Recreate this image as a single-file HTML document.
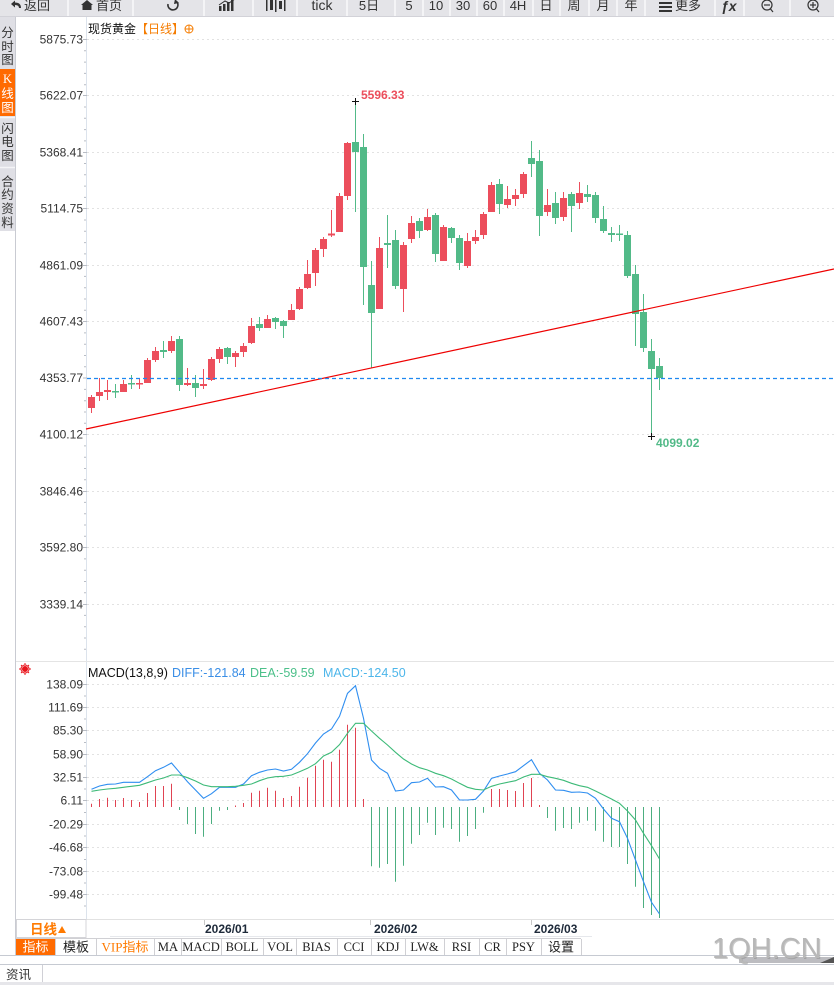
<!DOCTYPE html>
<html><head><meta charset="utf-8"><style>
html,body{margin:0;padding:0;background:#fff;}
body{width:834px;height:985px;overflow:hidden;}
svg{display:block;}
text{font-family:"Liberation Sans","Noto Sans CJK SC",sans-serif;}
.ser{font-family:"Liberation Serif","Noto Sans CJK SC",serif;}
</style></head><body>
<svg width="834" height="985" viewBox="0 0 834 985" xmlns="http://www.w3.org/2000/svg">
<!-- toolbar -->
<rect x="0" y="0" width="834" height="16.5" fill="#e4e4e8"/>
<line x1="0" y1="16.5" x2="834" y2="16.5" stroke="#d2d2d8"/>
<g stroke="#f4f4f6" stroke-width="2">
<line x1="68" y1="0" x2="68" y2="16"/><line x1="133" y1="0" x2="133" y2="16"/><line x1="204" y1="0" x2="204" y2="16"/><line x1="253" y1="0" x2="253" y2="16"/><line x1="297" y1="0" x2="297" y2="16"/><line x1="347" y1="0" x2="347" y2="16"/><line x1="395" y1="0" x2="395" y2="16"/><line x1="423" y1="0" x2="423" y2="16"/><line x1="450" y1="0" x2="450" y2="16"/><line x1="477" y1="0" x2="477" y2="16"/><line x1="504" y1="0" x2="504" y2="16"/><line x1="533" y1="0" x2="533" y2="16"/><line x1="560" y1="0" x2="560" y2="16"/><line x1="589" y1="0" x2="589" y2="16"/><line x1="617" y1="0" x2="617" y2="16"/><line x1="645" y1="0" x2="645" y2="16"/><line x1="715" y1="0" x2="715" y2="16"/><line x1="744" y1="0" x2="744" y2="16"/><line x1="790" y1="0" x2="790" y2="16"/>
</g>
<g fill="#333" font-size="13">
<path d="M11 4 L15 0.5 L15 2.5 Q21 2.5 21 8 L19 8 Q19 5 15 5 L15 7.5 Z" fill="#333"/>
<text x="24" y="10">返回</text>
<path d="M81 5 L87 0 L93 5 L91.5 5 L91.5 10 L82.5 10 L82.5 5 Z" fill="#333"/>
<text x="96" y="10">首页</text>
<path d="M177 2 A5 5 0 1 1 168 4" fill="none" stroke="#333" stroke-width="1.6"/>
<path d="M175 -1 L179 3 L174 4 Z" fill="#333"/>
<rect x="219" y="6" width="2.5" height="5"/><rect x="223" y="4" width="2.5" height="7"/><rect x="227" y="2" width="2.5" height="9"/><rect x="231" y="0" width="2.5" height="11"/>
<path d="M219 5 L225 1 L229 3 L235 -1" fill="none" stroke="#333" stroke-width="1"/>
<rect x="266" y="0" width="1.5" height="11"/><rect x="270" y="0" width="3" height="10"/><rect x="275" y="0" width="1.5" height="12"/><rect x="279" y="1" width="3" height="8"/><rect x="284" y="0" width="1.5" height="11"/>
<text x="322" y="10" text-anchor="middle" font-size="14">tick</text>
<text x="369" y="10" text-anchor="middle">5日</text>
<text x="409" y="10" text-anchor="middle">5</text>
<text x="436" y="10" text-anchor="middle">10</text>
<text x="463" y="10" text-anchor="middle">30</text>
<text x="490" y="10" text-anchor="middle">60</text>
<text x="518" y="10" text-anchor="middle">4H</text>
<text x="546" y="10" text-anchor="middle">日</text>
<text x="574" y="10" text-anchor="middle">周</text>
<text x="603" y="10" text-anchor="middle">月</text>
<text x="631" y="10" text-anchor="middle">年</text>
<rect x="659" y="2" width="13" height="2"/><rect x="659" y="6" width="13" height="2"/><rect x="659" y="10" width="13" height="2"/>
<text x="675" y="10">更多</text>
<text x="721" y="11" font-weight="bold" font-style="italic" font-size="14">ƒx</text>
<circle cx="767" cy="5" r="5" fill="none" stroke="#333" stroke-width="1.2"/><line x1="764" y1="5" x2="770" y2="5" stroke="#333" stroke-width="1.2"/><line x1="770.5" y1="9" x2="773" y2="12" stroke="#333" stroke-width="1.2"/>
<circle cx="813" cy="5" r="5" fill="none" stroke="#333" stroke-width="1.2"/><line x1="810" y1="5" x2="816" y2="5" stroke="#333" stroke-width="1.2"/><line x1="813" y1="2" x2="813" y2="8" stroke="#333" stroke-width="1.2"/><line x1="816.5" y1="9" x2="819" y2="12" stroke="#333" stroke-width="1.2"/>
</g>

<!-- sidebar -->
<rect x="0" y="17" width="15.5" height="214" fill="#dfdfe5"/>
<rect x="0" y="69" width="15.5" height="47" fill="#ff6a00"/>
<g stroke="#f5f5f7" stroke-width="1.5"><line x1="0" y1="117.5" x2="15" y2="117.5"/><line x1="0" y1="167.5" x2="15" y2="167.5"/></g>
<line x1="15.5" y1="17" x2="15.5" y2="955" stroke="#c9cbd2"/>
<g font-size="12.5" fill="#333" text-anchor="middle">
<text x="7.5" y="37">分</text><text x="7.5" y="51">时</text><text x="7.5" y="64">图</text>
<text x="7.5" y="83" fill="#fff" class="ser">K</text><text x="7.5" y="98" fill="#fff">线</text><text x="7.5" y="112" fill="#fff">图</text>
<text x="7.5" y="133">闪</text><text x="7.5" y="146">电</text><text x="7.5" y="160">图</text>
<text x="7.5" y="186">合</text><text x="7.5" y="199">约</text><text x="7.5" y="213">资</text><text x="7.5" y="227">料</text>
</g>

<!-- title -->
<text x="88" y="33" font-size="12" fill="#111">现货黄金<tspan fill="#f57c00">【日线】</tspan></text>
<circle cx="189" cy="29" r="4" fill="none" stroke="#f57c00" stroke-width="1"/>
<line x1="185" y1="29" x2="193" y2="29" stroke="#f57c00" stroke-width="1"/><line x1="189" y1="25" x2="189" y2="33" stroke="#f57c00" stroke-width="1"/>

<!-- main grid -->
<g stroke="#e2e2e2" stroke-dasharray="2,3">
<line x1="87" y1="39.5" x2="834" y2="39.5"/><line x1="87" y1="95.5" x2="834" y2="95.5"/><line x1="87" y1="152.5" x2="834" y2="152.5"/><line x1="87" y1="208.5" x2="834" y2="208.5"/><line x1="87" y1="265.5" x2="834" y2="265.5"/><line x1="87" y1="321.5" x2="834" y2="321.5"/><line x1="87" y1="434.5" x2="834" y2="434.5"/><line x1="87" y1="491.5" x2="834" y2="491.5"/><line x1="87" y1="547.5" x2="834" y2="547.5"/><line x1="87" y1="604.5" x2="834" y2="604.5"/>
</g>
<line x1="86.5" y1="17" x2="86.5" y2="919" stroke="#dce3ec"/>
<g stroke="#b8bcc4">
<path d="M83 39.5h4M84 50.8h2M84 62.1h2M84 73.4h2M84 84.7h2M83 95.5h4M84 107h2M84 118.3h2M84 129.6h2M84 140.9h2M83 152.5h4M84 163.5h2M84 174.8h2M84 186.1h2M84 197.4h2M83 208.5h4M84 220h2M84 231.3h2M84 242.6h2M84 253.9h2M83 265.5h4M84 276.4h2M84 287.7h2M84 299h2M84 310.3h2M83 321.5h4M84 332.9h2M84 344.2h2M84 355.5h2M84 366.8h2M83 378h4M84 389.4h2M84 400.7h2M84 412h2M84 423.3h2M83 434.5h4M84 445.9h2M84 457.2h2M84 468.5h2M84 479.8h2M83 491.5h4M84 502.4h2M84 513.7h2M84 525h2M84 536.3h2M83 547.5h4M84 558.9h2M84 570.2h2M84 581.5h2M84 592.8h2M83 604.5h4M84 615.4h2M84 626.7h2M84 638h2M84 649.3h2"/>
</g>
<g font-size="12" fill="#333" text-anchor="end">
<text x="83" y="43.5">5875.73</text><text x="83" y="99.5">5622.07</text><text x="83" y="156.5">5368.41</text><text x="83" y="212.5">5114.75</text><text x="83" y="269.5">4861.09</text><text x="83" y="325.5">4607.43</text><text x="83" y="382">4353.77</text><text x="83" y="438.5">4100.12</text><text x="83" y="495.5">3846.46</text><text x="83" y="551.5">3592.80</text><text x="83" y="608.5">3339.14</text>
</g>

<!-- candles red -->
<g fill="#ec4e5c">
<rect x="91" y="395" width="1" height="18"/><rect x="88" y="397" width="7" height="11"/>
<rect x="99" y="378" width="1" height="23"/><rect x="96" y="392" width="7" height="4"/>
<rect x="107" y="380" width="1" height="20"/><rect x="104" y="390" width="7" height="2"/>
<rect x="123" y="380" width="1" height="12"/><rect x="120" y="384" width="7" height="8"/>
<rect x="139" y="379" width="1" height="10"/><rect x="136" y="383" width="7" height="1.5"/>
<rect x="147" y="358" width="1" height="25"/><rect x="144" y="360" width="7" height="23"/>
<rect x="155" y="347" width="1" height="15"/><rect x="152" y="351" width="7" height="9"/>
<rect x="171" y="336" width="1" height="17"/><rect x="168" y="341" width="7" height="10"/>
<rect x="187" y="368" width="1" height="18"/><rect x="184" y="383" width="7" height="2"/>
<rect x="203" y="369" width="1" height="20"/><rect x="200" y="384" width="7" height="2"/>
<rect x="211" y="357" width="1" height="24"/><rect x="208" y="359" width="7" height="21"/>
<rect x="219" y="347" width="1" height="16"/><rect x="216" y="349" width="7" height="10"/>
<rect x="235" y="351" width="1" height="16"/><rect x="232" y="353" width="7" height="4"/>
<rect x="243" y="343" width="1" height="14"/><rect x="240" y="346" width="7" height="6"/>
<rect x="251" y="318" width="1" height="26"/><rect x="248" y="326" width="7" height="17"/>
<rect x="267" y="315" width="1" height="13"/><rect x="264" y="319" width="7" height="9"/>
<rect x="291" y="304" width="1" height="16"/><rect x="288" y="310" width="7" height="10"/>
<rect x="299" y="287" width="1" height="23"/><rect x="296" y="289" width="7" height="20"/>
<rect x="307" y="260" width="1" height="29"/><rect x="304" y="274" width="7" height="14"/>
<rect x="315" y="248" width="1" height="38"/><rect x="312" y="250" width="7" height="23"/>
<rect x="323" y="237" width="1" height="20"/><rect x="320" y="239" width="7" height="10"/>
<rect x="331" y="210" width="1" height="27"/><rect x="328" y="233.5" width="7" height="2"/>
<rect x="339" y="193" width="1" height="39"/><rect x="336" y="196" width="7" height="36"/>
<rect x="347" y="142" width="1" height="58"/><rect x="344" y="143" width="7" height="53"/>
<rect x="379" y="237" width="1" height="72"/><rect x="376" y="248" width="7" height="61"/>
<rect x="403" y="242" width="1" height="70"/><rect x="400" y="245" width="7" height="44"/>
<rect x="411" y="216" width="1" height="27"/><rect x="408" y="223" width="7" height="16"/>
<rect x="427" y="209" width="1" height="22"/><rect x="424" y="217" width="7" height="13"/>
<rect x="443" y="225" width="1" height="36"/><rect x="440" y="227" width="7" height="34"/>
<rect x="467" y="233" width="1" height="35"/><rect x="464" y="241" width="7" height="25"/>
<rect x="475" y="230" width="1" height="14"/><rect x="472" y="237" width="7" height="4"/>
<rect x="483" y="212" width="1" height="27"/><rect x="480" y="214" width="7" height="21"/>
<rect x="491" y="182" width="1" height="30"/><rect x="488" y="185" width="7" height="27"/>
<rect x="507" y="186" width="1" height="22"/><rect x="504" y="199" width="7" height="6"/>
<rect x="515" y="189" width="1" height="17"/><rect x="512" y="195" width="7" height="4"/>
<rect x="523" y="172" width="1" height="26"/><rect x="520" y="174" width="7" height="20"/>
<rect x="547" y="189" width="1" height="27"/><rect x="544" y="205" width="7" height="7"/>
<rect x="563" y="192" width="1" height="29"/><rect x="560" y="198" width="7" height="19"/>
<rect x="579" y="182" width="1" height="27"/><rect x="576" y="193" width="7" height="10"/>
</g>
<!-- candles green -->
<g fill="#52ba88">
<rect x="115" y="384" width="1" height="14"/><rect x="112" y="391" width="7" height="1.5"/>
<rect x="131" y="375" width="1" height="14"/><rect x="128" y="383" width="7" height="1.5"/>
<rect x="163" y="341" width="1" height="17"/><rect x="160" y="350" width="7" height="2"/>
<rect x="179" y="336" width="1" height="55"/><rect x="176" y="339" width="7" height="46"/>
<rect x="195" y="375" width="1" height="22"/><rect x="192" y="383" width="7" height="5"/>
<rect x="227" y="347" width="1" height="17"/><rect x="224" y="348" width="7" height="9"/>
<rect x="259" y="317" width="1" height="14"/><rect x="256" y="324" width="7" height="4"/>
<rect x="275" y="317" width="1" height="12"/><rect x="272" y="318" width="7" height="4"/>
<rect x="283" y="320" width="1" height="18"/><rect x="280" y="321" width="7" height="5"/>
<rect x="355" y="102" width="1" height="110"/><rect x="352" y="142" width="7" height="10"/>
<rect x="363" y="134" width="1" height="171"/><rect x="360" y="147" width="7" height="120"/>
<rect x="371" y="261" width="1" height="107"/><rect x="368" y="285" width="7" height="28"/>
<rect x="387" y="215" width="1" height="53"/><rect x="384" y="243" width="7" height="2"/>
<rect x="395" y="230" width="1" height="59"/><rect x="392" y="240" width="7" height="46"/>
<rect x="419" y="218" width="1" height="20"/><rect x="416" y="221" width="7" height="10"/>
<rect x="435" y="213" width="1" height="49"/><rect x="432" y="215" width="7" height="39"/>
<rect x="451" y="227" width="1" height="16"/><rect x="448" y="228" width="7" height="10"/>
<rect x="459" y="235" width="1" height="35"/><rect x="456" y="238" width="7" height="25"/>
<rect x="499" y="179" width="1" height="35"/><rect x="496" y="184" width="7" height="20"/>
<rect x="531" y="141" width="1" height="36"/><rect x="528" y="158" width="7" height="6"/>
<rect x="539" y="150" width="1" height="86"/><rect x="536" y="161" width="7" height="55"/>
<rect x="555" y="192" width="1" height="32"/><rect x="552" y="203" width="7" height="15"/>
<rect x="571" y="192" width="1" height="40"/><rect x="568" y="194" width="7" height="12"/>
<rect x="587" y="185" width="1" height="17"/><rect x="584" y="194" width="7" height="3"/>
<rect x="595" y="192" width="1" height="31"/><rect x="592" y="195" width="7" height="23"/>
<rect x="603" y="206" width="1" height="27"/><rect x="600" y="219" width="7" height="12"/>
<rect x="611" y="227" width="1" height="15"/><rect x="608" y="233" width="7" height="2"/>
<rect x="619" y="225" width="1" height="16"/><rect x="616" y="233.5" width="7" height="1.5"/>
<rect x="627" y="231" width="1" height="47"/><rect x="624" y="235" width="7" height="41"/>
<rect x="635" y="265" width="1" height="81"/><rect x="632" y="274" width="7" height="40"/>
<rect x="643" y="294" width="1" height="58"/><rect x="640" y="312" width="7" height="36"/>
<rect x="651" y="339" width="1" height="97"/><rect x="648" y="351" width="7" height="18"/>
<rect x="659" y="358" width="1" height="32"/><rect x="656" y="366" width="7" height="12"/>
</g>
<!-- trend + current price lines -->
<line x1="86" y1="429" x2="834" y2="269" stroke="#ee0000" stroke-width="1.2"/>
<line x1="87" y1="378.5" x2="834" y2="378.5" stroke="#1e88f0" stroke-width="1.2" stroke-dasharray="4,3"/>
<!-- markers -->
<path d="M352 101.5h7M355.5 98v7M648 436.5h7M651.5 433v7" stroke="#111" stroke-width="1"/>
<text x="361" y="99" font-size="12" font-weight="bold" fill="#ec4e5c">5596.33</text>
<text x="656" y="447" font-size="12" font-weight="bold" fill="#52ba88">4099.02</text>

<!-- separator main/macd -->
<line x1="16" y1="661.5" x2="834" y2="661.5" stroke="#e4e4e4"/>

<!-- MACD panel -->
<g fill="none" stroke="#e8141c" stroke-width="1">
<circle cx="25" cy="669" r="2.5" fill="#e8141c"/>
<path d="M25 663v2M25 673v2M19 669h2M29 669h2M21 665l1.4 1.4M27.6 671.6l1.4 1.4M29 665l-1.4 1.4M22.4 671.6l-1.4 1.4"/>
<circle cx="25" cy="669" r="4"/>
</g>
<text x="88" y="677" font-size="12.5" fill="#111">MACD(13,8,9)</text>
<text x="172" y="677" font-size="12.5" fill="#3a8ee6">DIFF:-121.84</text>
<text x="250" y="677" font-size="12.5" fill="#4cc08a">DEA:-59.59</text>
<text x="323" y="677" font-size="12.5" fill="#4db6ea">MACD:-124.50</text>
<g stroke="#e2e2e2" stroke-dasharray="2,3">
<line x1="87" y1="684.5" x2="834" y2="684.5"/><line x1="87" y1="707.5" x2="834" y2="707.5"/><line x1="87" y1="730.5" x2="834" y2="730.5"/><line x1="87" y1="754.5" x2="834" y2="754.5"/><line x1="87" y1="777.5" x2="834" y2="777.5"/><line x1="87" y1="800.5" x2="834" y2="800.5"/><line x1="87" y1="824.5" x2="834" y2="824.5"/><line x1="87" y1="847.5" x2="834" y2="847.5"/><line x1="87" y1="871.5" x2="834" y2="871.5"/><line x1="87" y1="894.5" x2="834" y2="894.5"/>
</g>
<g stroke="#b8bcc4">
<path d="M83 684.5h4M84 696h2M83 707.5h4M84 719h2M83 730.5h4M84 742.5h2M83 754.5h4M84 766h2M83 777.5h4M84 789h2M83 800.5h4M84 812.5h2M83 824.5h4M84 836h2M83 847.5h4M84 859.5h2M83 871.5h4M84 883h2M83 894.5h4M84 906h2"/>
</g>
<g font-size="12" fill="#333" text-anchor="end">
<text x="83" y="688.5">138.09</text><text x="83" y="711.5">111.69</text><text x="83" y="734.5">85.30</text><text x="83" y="758.5">58.90</text><text x="83" y="781.5">32.51</text><text x="83" y="804.5">6.11</text><text x="83" y="828.5">-20.29</text><text x="83" y="851.5">-46.68</text><text x="83" y="875.5">-73.08</text><text x="83" y="898.5">-99.48</text>
</g>
<path stroke="#e04352" stroke-width="1" fill="none" d="M91.5 807V803.7M99.5 807V799M107.5 807V797.7M115.5 807V800M123.5 807V798M131.5 807V800M139.5 807V802M147.5 807V793M155.5 807V786M163.5 807V786M171.5 807V783.7M235.5 807V805.5M243.5 807V803M251.5 807V792.7M259.5 807V790.7M267.5 807V787.7M275.5 807V790.7M283.5 807V798M291.5 807V796M299.5 807V786.7M307.5 807V777.7M315.5 807V765.7M323.5 807V759.7M331.5 807V761.7M339.5 807V749.7M347.5 807V724.7M355.5 807V727.7M363.5 807V799M491.5 807V789M499.5 807V789M507.5 807V790M515.5 807V791M523.5 807V783M531.5 807V778M539.5 807V805"/>
<path stroke="#4cae80" stroke-width="1" fill="none" d="M179.5 807V810M187.5 807V824M195.5 807V834M203.5 807V836.7M211.5 807V824M219.5 807V810.7M227.5 807V810M371.5 807V866.3M379.5 807V867.7M387.5 807V864M395.5 807V881.7M403.5 807V865.7M411.5 807V843.7M419.5 807V835M427.5 807V822.7M435.5 807V835M443.5 807V827.7M451.5 807V829M459.5 807V841.7M467.5 807V836M475.5 807V829M483.5 807V812.7M547.5 807V818M555.5 807V830.7M563.5 807V828M571.5 807V829M579.5 807V822.7M587.5 807V820.7M595.5 807V830.7M603.5 807V841.7M611.5 807V847M619.5 807V847M627.5 807V864M635.5 807V886.7M643.5 807V908M651.5 807V915M659.5 807V918"/>
<polyline fill="none" stroke="#2f8ef0" stroke-width="1.1" points="91.5,789.3 99.5,786 107.5,784.3 115.5,784 123.5,782.3 131.5,782.3 139.5,782.3 147.5,776.7 155.5,770.7 163.5,767.3 171.5,763 179.5,772.3 187.5,781.7 195.5,790 203.5,798.3 211.5,793.7 219.5,787.3 227.5,787.3 235.5,787.3 243.5,784 251.5,775.7 259.5,772.3 267.5,770 275.5,769 283.5,771 291.5,769.3 299.5,762.3 307.5,753.7 315.5,743 323.5,734 331.5,729 339.5,716.3 347.5,693.3 355.5,685.7 363.5,718.3 371.5,760 379.5,768.3 387.5,773.3 395.5,791 403.5,790 411.5,782.7 419.5,782 427.5,778.3 435.5,787 443.5,786.7 451.5,790 459.5,800 467.5,800 475.5,799.3 483.5,791 491.5,778.3 499.5,776 507.5,774 515.5,771.7 523.5,765.7 531.5,759.7 539.5,773.3 547.5,780 555.5,790 563.5,790.3 571.5,792.3 579.5,792 587.5,793 595.5,798.3 603.5,809 611.5,818.3 619.5,821.7 627.5,838.3 635.5,860 643.5,881.7 651.5,902.3 659.5,914"/>
<polyline fill="none" stroke="#3dba78" stroke-width="1.1" points="91.5,791.3 99.5,790 107.5,789 115.5,788.3 123.5,787.3 131.5,786.3 139.5,785.3 147.5,782.7 155.5,780 163.5,778 171.5,775 179.5,775 187.5,777.7 195.5,781 203.5,785 211.5,786.7 219.5,786.7 227.5,786.7 235.5,786.3 243.5,785.3 251.5,784 259.5,780.7 267.5,778 275.5,776.7 283.5,776.3 291.5,775 299.5,771.7 307.5,768.3 315.5,763.7 323.5,756 331.5,752.3 339.5,744.7 347.5,733.3 355.5,723.3 363.5,723.3 371.5,731 379.5,738.3 387.5,745 395.5,752.3 403.5,759 411.5,764 419.5,767.7 427.5,770 435.5,773.3 443.5,775.7 451.5,779 459.5,783.3 467.5,787.3 475.5,789.3 483.5,790 491.5,786.3 499.5,784 507.5,782.3 515.5,780.7 523.5,777 531.5,774.3 539.5,774.3 547.5,776.7 555.5,778.3 563.5,780.3 571.5,783.3 579.5,785.7 587.5,787.3 595.5,791 603.5,795 611.5,799 619.5,803.3 627.5,811 635.5,820 643.5,833.3 651.5,845.7 659.5,859"/>

<!-- date axis row -->
<rect x="16" y="919" width="818" height="19" fill="#fff"/>
<line x1="16" y1="919.5" x2="834" y2="919.5" stroke="#e2e2e2"/>
<rect x="16.5" y="919.5" width="69.5" height="18" fill="#fff" stroke="#d4d4d8"/>
<text x="30" y="934" font-size="13.5" font-weight="bold" fill="#ff7a00">日线</text>
<path d="M58 933 L62 926 L66 933 Z" fill="#ff7a00"/>
<line x1="110" y1="936.5" x2="592" y2="936.5" stroke="#e6e8ec"/>
<path d="M204.5 920v5M370.5 920v5M531.5 920v5" stroke="#c8c8c8"/>
<g font-size="12" font-weight="bold" fill="#1e2a3a">
<text x="205" y="933">2026/01</text><text x="374" y="933">2026/02</text><text x="534" y="933">2026/03</text>
</g>

<!-- tab row -->
<rect x="16" y="939" width="39" height="16" fill="#ff6a00"/>
<g stroke="#d0d0d4" fill="none">
<line x1="16" y1="938.5" x2="581" y2="938.5"/>
<path d="M55.5 939v16M96.5 939v16M154.5 939v16M181.5 939v16M221.5 939v16M263.5 939v16M296.5 939v16M337.5 939v16M371.5 939v16M405.5 939v16M444.5 939v16M479.5 939v16M506.5 939v16M541.5 939v16M581.5 939v16"/>
</g>
<g font-size="12.5" text-anchor="middle" fill="#222">
<text x="35.5" y="951.5" fill="#fff" font-size="13">指标</text>
<text x="76" y="951.5" font-size="13">模板</text>
<text x="125" y="951.5" fill="#ff7a00" font-size="13"><tspan class="ser">VIP</tspan>指标</text>
<text x="168" y="951" class="ser">MA</text>
<text x="201" y="951" class="ser">MACD</text>
<text x="242" y="951" class="ser">BOLL</text>
<text x="280" y="951" class="ser">VOL</text>
<text x="316.5" y="951" class="ser">BIAS</text>
<text x="354" y="951" class="ser">CCI</text>
<text x="388" y="951" class="ser">KDJ</text>
<text x="424.5" y="951" class="ser">LW&amp;</text>
<text x="461.5" y="951" class="ser">RSI</text>
<text x="492.5" y="951" class="ser">CR</text>
<text x="523.5" y="951" class="ser">PSY</text>
<text x="561" y="951.5" font-size="13">设置</text>
</g>

<!-- bottom -->
<line x1="0" y1="955.5" x2="834" y2="955.5" stroke="#c6cad2"/>
<rect x="739" y="957" width="95" height="6" fill="#bcbcc0"/>
<path d="M820 963 L834 957 L834 963 Z" fill="#555"/>
<line x1="0" y1="964.5" x2="834" y2="964.5" stroke="#c6cad2"/>
<text x="6" y="979" font-size="12.5" fill="#333">资讯</text>
<line x1="42.5" y1="965" x2="42.5" y2="982" stroke="#d0d0d6"/>
<rect x="0" y="982" width="834" height="3" fill="#e6e6ea"/>

<!-- watermark -->
<text x="713" y="959" font-size="29" fill="#888" opacity="0.45">1QH.CN</text>
<text x="712" y="958" font-size="29" fill="#b8b8b8">1QH.CN</text>
</svg>
</body></html>
